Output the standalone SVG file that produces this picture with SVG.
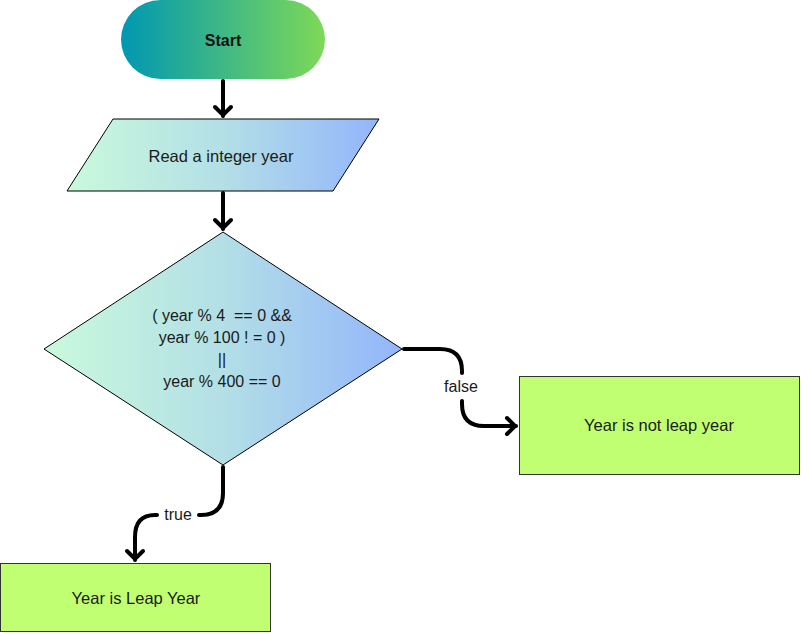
<svg xmlns="http://www.w3.org/2000/svg" width="801" height="633" viewBox="0 0 801 633">
<defs>
<linearGradient id="gStart" x1="0" y1="0" x2="1" y2="0">
<stop offset="0" stop-color="#0097b2"/>
<stop offset="1" stop-color="#7ed957"/>
</linearGradient>
<linearGradient id="gBlue" x1="0" y1="0" x2="1" y2="0">
<stop offset="0" stop-color="#c9fadc"/>
<stop offset="0.5" stop-color="#b3dfe6"/>
<stop offset="1" stop-color="#93b5fb"/>
</linearGradient>
<marker id="arr" markerUnits="userSpaceOnUse" markerWidth="24" markerHeight="24" viewBox="-12 -12 24 24" refX="0" refY="0" orient="auto">
<path d="M-9,-8 L-1,0 L-9,8" fill="none" stroke="#000" stroke-width="4" stroke-linecap="round" stroke-linejoin="miter"/>
</marker>
<style>
.t{font-family:"Liberation Sans","Open Sans",Arial,sans-serif;font-size:16px;fill:#1a1a1a;text-anchor:middle;white-space:pre}
.c{fill:none;stroke:#000;stroke-width:4;stroke-linecap:round}
.box{fill:#c1ff72;stroke:#333;stroke-width:1}
.sh{stroke:#000;stroke-width:1}
</style>
</defs>
<g id="start">
<rect x="121" y="0" width="204" height="79" rx="39.5" fill="url(#gStart)"/>
<text class="t" x="223" y="46" style="font-weight:bold;font-size:16px;fill:#111">Start</text>
</g>
<g id="read">
<polygon class="sh" points="113,119 379,119 333,191 67,191" fill="url(#gBlue)"/>
<text class="t" x="221" y="162" style="font-size:16.5px">Read a integer year</text>
</g>
<g id="decision">
<polygon class="sh" points="223,232 402,349 223,465 44,349" fill="url(#gBlue)"/>
<text class="t" x="222" y="321" xml:space="preserve">( year % 4  == 0 &amp;&amp;</text>
<text class="t" x="222" y="343">year % 100 ! = 0 )</text>
<text class="t" x="222" y="365">||</text>
<text class="t" x="222" y="387">year % 400 == 0</text>
</g>
<g id="notleap">
<rect class="box" x="519.5" y="376.5" width="280" height="98"/>
<text class="t" x="659" y="431" style="font-size:16.5px">Year is not leap year</text>
</g>
<g id="leap">
<rect class="box" x="0.5" y="563.5" width="270" height="68"/>
<text class="t" x="136" y="604" style="font-size:16.5px">Year is Leap Year</text>
</g>
<g id="connectors">
<path class="c" d="M223,81 V116" marker-end="url(#arr)"/>
<path class="c" d="M223,193 V229" marker-end="url(#arr)"/>
<path class="c" d="M404,349 H440 Q462,349 462,371 V373"/>
<path class="c" d="M462,401 V404 Q462,426 484,426 H516" marker-end="url(#arr)"/>
<text class="t" x="461" y="392">false</text>
<path class="c" d="M223,467 V493 Q223,515 201,515 H199"/>
<path class="c" d="M157,515 H155 Q135,515 135,537 V560" marker-end="url(#arr)"/>
<text class="t" x="178" y="520">true</text>
</g>
</svg>
